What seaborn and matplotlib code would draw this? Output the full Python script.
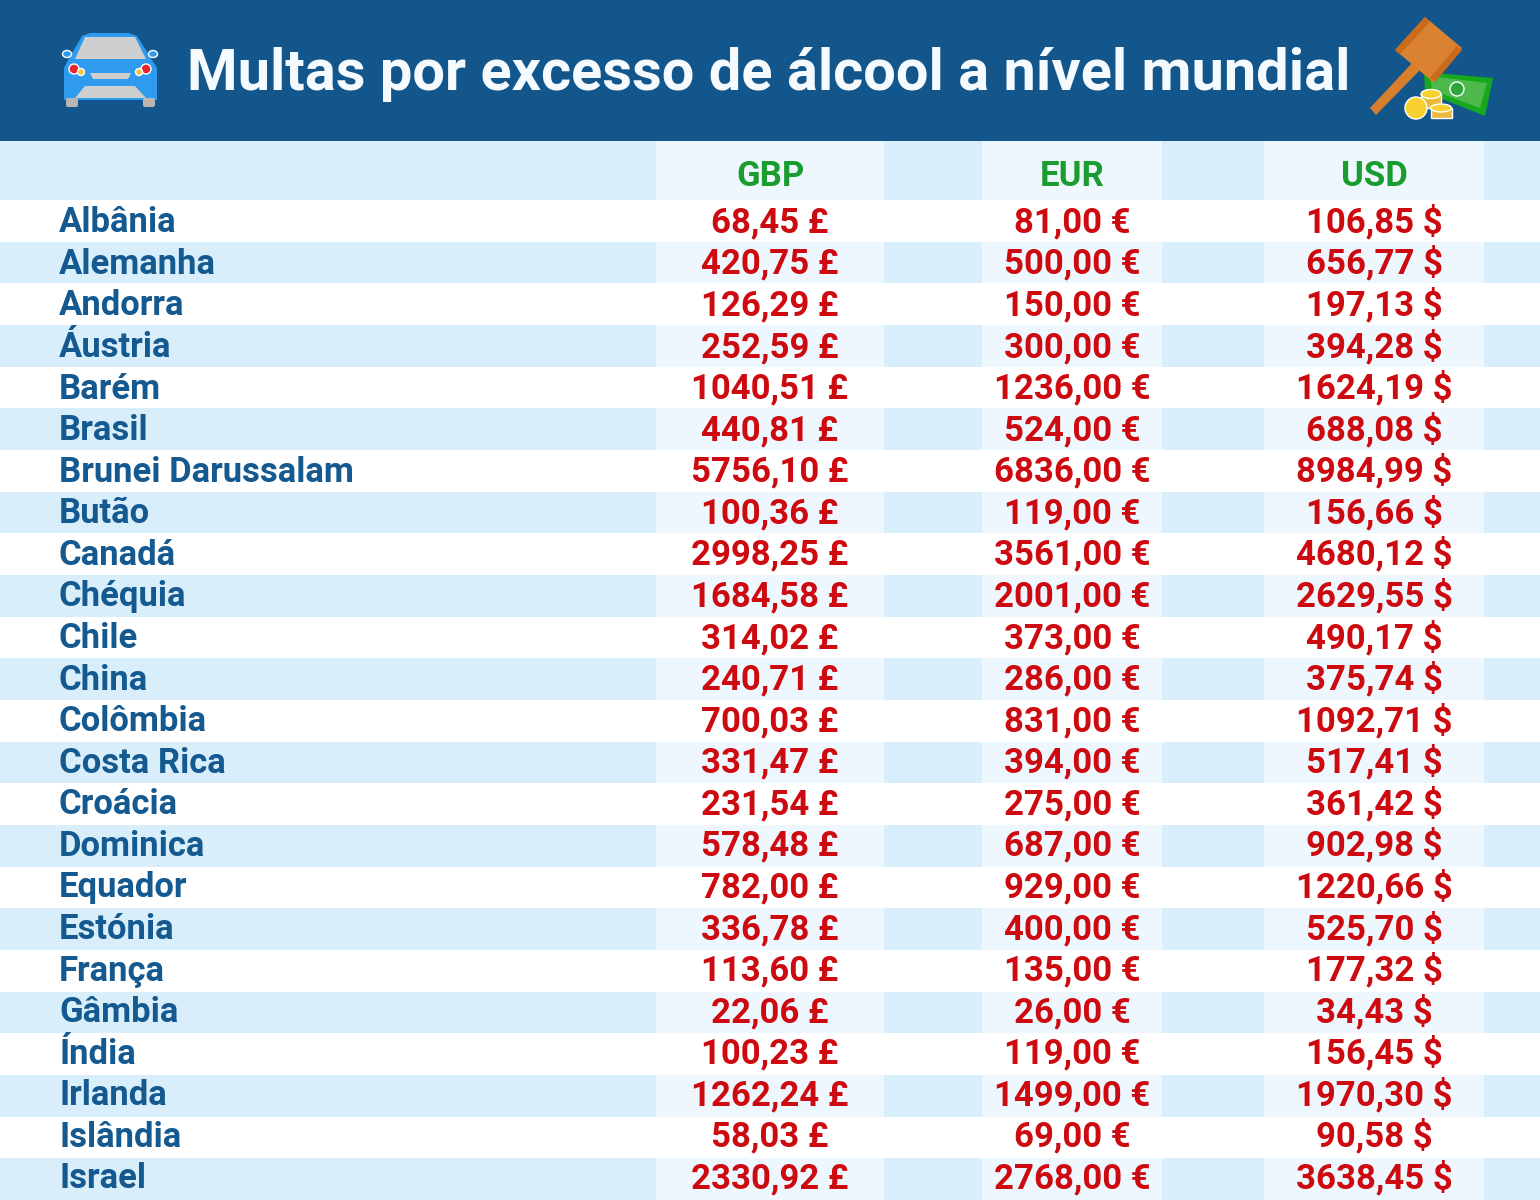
import numpy as np
import matplotlib
matplotlib.use("Agg")
import matplotlib.pyplot as plt
from matplotlib.colors import ListedColormap
from matplotlib.patches import Polygon, Circle, Rectangle, FancyBboxPatch, Ellipse
import seaborn as sns

title = "Multas por excesso de álcool a nível mundial"
countries = ["Albânia", "Alemanha", "Andorra", "Áustria", "Barém", "Brasil", "Brunei Darussalam", "Butão",
             "Canadá", "Chéquia", "Chile", "China", "Colômbia", "Costa Rica", "Croácia", "Dominica",
             "Equador", "Estónia", "França", "Gâmbia", "Índia", "Irlanda", "Islândia", "Israel"]
gbp = [68.45, 420.75, 126.29, 252.59, 1040.51, 440.81, 5756.10, 100.36, 2998.25, 1684.58, 314.02, 240.71,
       700.03, 331.47, 231.54, 578.48, 782.00, 336.78, 113.60, 22.06, 100.23, 1262.24, 58.03, 2330.92]
eur = [81, 500, 150, 300, 1236, 524, 6836, 119, 3561, 2001, 373, 286,
       831, 394, 275, 687, 929, 400, 135, 26, 119, 1499, 69, 2768]
usd = [106.85, 656.77, 197.13, 394.28, 1624.19, 688.08, 8984.99, 156.66, 4680.12, 2629.55, 490.17, 375.74,
       1092.71, 517.41, 361.42, 902.98, 1220.66, 525.70, 177.32, 34.43, 156.45, 1970.30, 90.58, 3638.45]
currencies = ["GBP", "EUR", "USD"]
symbols = ["£", "€", "$"]

NAVY = "#12568C"; NAME = "#14598F"; RED = "#CC0A10"; GREEN = "#1A9C2E"
BASE = "#D9EEFB"; LIGHT = "#EEF7FD"
FONT = "Roboto"
W, H = 1540, 1200
HEAD_T, ROW_T = 141, 200
BASE0, PITCH = 232.3, 41.57      # text baselines of the rows, pixels
HEAD_BASE = 186.5

sns.set_theme(style="white")
plt.rcParams["font.family"] = [FONT, "DejaVu Sans"]
fig = plt.figure(figsize=(W / 100, H / 100), dpi=100, facecolor="white")


def band(x0, x1, y0, y1, cells, labels, stripe, color, size, baselines=None):
    ax = fig.add_axes([x0 / W, 1 - y1 / H, (x1 - x0) / W, (y1 - y0) / H])
    sns.heatmap(cells, ax=ax, cmap=ListedColormap(["white", stripe]), vmin=0, vmax=1, cbar=False,
                annot=labels, fmt="", xticklabels=False, yticklabels=False,
                annot_kws=dict(color=color, fontsize=size, fontweight="bold", family=FONT, va="baseline"))
    ax.set_xlabel(""); ax.set_ylabel("")
    ax.tick_params(length=0)
    if baselines is not None:
        unit = (y1 - y0) / len(cells)
        for t, b in zip(ax.texts, baselines):
            t.set_y((b - y0) / unit)
    return ax


n = len(countries)
stripes = (np.arange(n) % 2).reshape(-1, 1).astype(float)
blank = np.full((n, 1), "", dtype=object)
baselines = [BASE0 + PITCH * i for i in range(n)]
# bands between the value columns
for x0, x1 in [(0, 656), (884, 982), (1162, 1264), (1484, 1540)]:
    band(x0, x1, HEAD_T, ROW_T, np.ones((1, 1)), np.array([[""]], dtype=object), BASE, NAME, 10)
    band(x0, x1, ROW_T, H, stripes, blank, BASE, NAME, 10)
# value columns
fmt = lambda vals, s: np.array([[f"{v:.2f}".replace(".", ",") + " " + s] for v in vals], dtype=object)
for (x0, x1), cur, sym, vals in zip([(656, 884), (982, 1162), (1264, 1484)], currencies, symbols, [gbp, eur, usd]):
    band(x0, x1, HEAD_T, ROW_T, np.ones((1, 1)), np.array([[cur]], dtype=object), LIGHT, GREEN, 25, [HEAD_BASE])
    band(x0, x1, ROW_T, H, stripes, fmt(vals, sym), LIGHT, RED, 25, baselines)

# overlay in pixel coordinates
ov = fig.add_axes([0, 0, 1, 1], zorder=5)
ov.set_xlim(0, W); ov.set_ylim(H, 0); ov.axis("off"); ov.patch.set_alpha(0)
ov.add_patch(Rectangle((0, 0), W, HEAD_T, fc=NAVY, ec="none"))
ov.text(768.5, 90, title, color="#F4FAFE", fontsize=41.55, fontweight="bold", ha="center", va="baseline", family=FONT)
for name, b in zip(countries, baselines):
    ov.text(59, b, name, color=NAME, fontsize=24.9, fontweight="bold", ha="left", va="baseline", family=FONT)


def poly(pts, c, z=6):
    ov.add_patch(Polygon(pts, closed=True, fc=c, ec="none", zorder=z))


# car
BL = "#2F9BEE"; GR = "#CFCFCF"
poly([(68, 60), (82, 36), (90, 33), (128, 33), (137, 36), (152, 60), (157, 68), (157, 100), (64, 100), (64, 68)], BL)
poly([(75, 59), (85, 37), (135, 37), (146, 59)], GR)
ov.add_patch(Ellipse((67, 54), 9, 7, fc=BL, zorder=6))
ov.add_patch(Ellipse((153, 54), 9, 7, fc=BL, zorder=6))
poly([(90, 73), (131, 73), (128, 79), (93, 79)], GR, 7)
poly([(75, 98), (85, 86), (135, 86), (146, 98)], GR, 7)
ov.add_patch(FancyBboxPatch((66, 98), 12, 9, boxstyle="round,pad=0,rounding_size=2", fc="#B9B5B3", ec="none", zorder=6))
ov.add_patch(FancyBboxPatch((143, 98), 12, 9, boxstyle="round,pad=0,rounding_size=2", fc="#B9B5B3", ec="none", zorder=6))
for cx, sx in [(74, 81), (146, 139)]:
    ov.add_patch(Circle((cx, 69), 5, fc="#E5262B", ec="white", lw=1, zorder=7))
    ov.add_patch(Circle((sx, 72), 3.5, fc="#F6C43A", zorder=7))

# gavel, banknote and coins
poly([(1424, 72), (1493, 78), (1485, 116), (1425, 92)], "#18A81E")
poly([(1430, 76), (1487, 83), (1480, 108), (1432, 90)], "#4DB84C")
ov.add_patch(Circle((1457, 89), 7, fc="#2EA53A", zorder=6))
poly([(1370, 108), (1376, 115), (1420, 70), (1413, 62)], "#D77F2D", 7)
poly([(1395, 50), (1425, 17), (1462, 48), (1433, 82)], "#DB8230", 7)
poly([(1395, 50), (1425, 17), (1430, 22), (1400, 54)], "#C96A1D", 8)
poly([(1457, 46), (1462, 50), (1435, 82), (1430, 78)], "#C96A1D", 8)
ov.add_patch(Rectangle((1421, 94), 20, 14, fc="#E8B93A", zorder=8))
ov.add_patch(Ellipse((1431, 94), 20, 9, fc="#F6D130", zorder=8))
ov.add_patch(Rectangle((1431, 108), 21, 10, fc="#E8B93A", zorder=8))
ov.add_patch(Ellipse((1441, 108), 21, 8, fc="#F6D130", zorder=8))
ov.add_patch(Circle((1416, 108), 11, fc="#F6D130", zorder=9))

fig.savefig("out.png", dpi=100, facecolor="white")
